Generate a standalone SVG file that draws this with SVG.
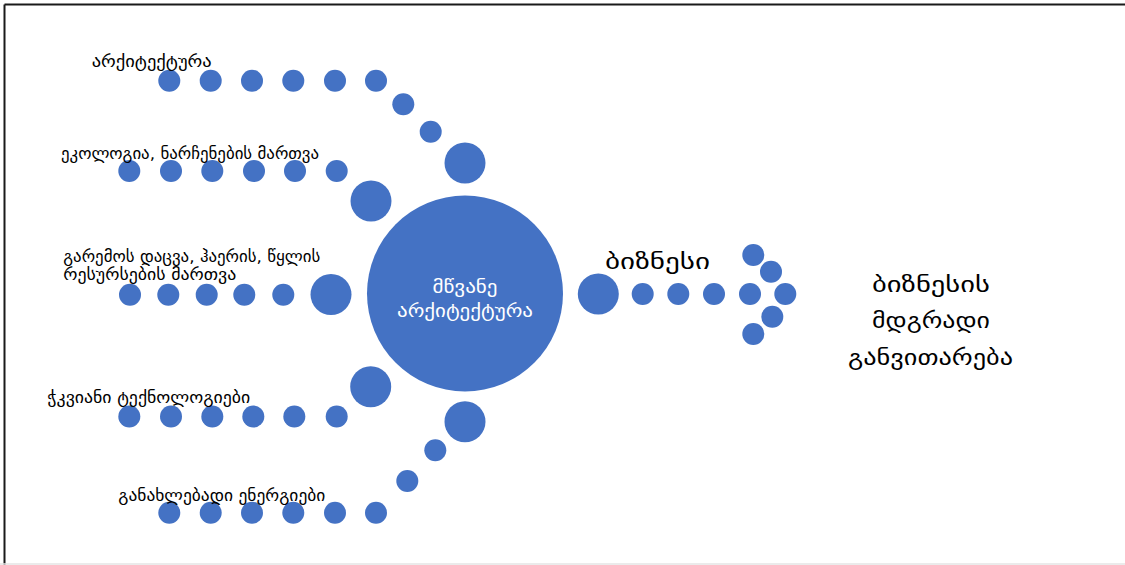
<svg xmlns="http://www.w3.org/2000/svg" width="1125" height="565" viewBox="0 0 1125 565">
<style>
.dot{fill:#4472C4}
.lbl{font-family:"DejaVu Sans","Noto Sans",sans-serif;font-size:16px;fill:#000}
.main{font-family:"DejaVu Sans","Noto Sans",sans-serif;font-size:18px;fill:#fff}
.big{font-family:"DejaVu Sans","Noto Sans",sans-serif;font-size:22px;fill:#000}
</style>
<rect x="0" y="0" width="1125" height="565" fill="#fff"/>
<g id="frame">
<line x1="4.5" y1="4.5" x2="1125" y2="4.5" stroke="#1a1a1a" stroke-width="2"/>
<line x1="4.5" y1="4.5" x2="4.5" y2="565" stroke="#1a1a1a" stroke-width="2"/>
<line x1="0" y1="564" x2="1125" y2="564" stroke="#e4e4e4" stroke-width="1.5"/>
</g>
<g id="connectors">
<g id="chain-architecture">
<circle class="dot" cx="169.3" cy="80.7" r="11"/><circle class="dot" cx="210.7" cy="80.7" r="11"/><circle class="dot" cx="252" cy="80.7" r="11"/><circle class="dot" cx="293.3" cy="80.7" r="11"/><circle class="dot" cx="335" cy="80.7" r="11"/><circle class="dot" cx="376" cy="80.7" r="11"/><circle class="dot" cx="403.3" cy="104.3" r="11"/><circle class="dot" cx="430.7" cy="131.7" r="11"/><circle class="dot" cx="465" cy="163" r="20.5"/>
</g>
<g id="chain-ecology">
<circle class="dot" cx="129.3" cy="171" r="11"/><circle class="dot" cx="171" cy="171" r="11"/><circle class="dot" cx="212.3" cy="171" r="11"/><circle class="dot" cx="254" cy="171" r="11"/><circle class="dot" cx="295" cy="171" r="11"/><circle class="dot" cx="336.7" cy="171" r="11"/><circle class="dot" cx="371" cy="201" r="20.5"/>
</g>
<g id="chain-environment">
<circle class="dot" cx="130" cy="294.7" r="11"/><circle class="dot" cx="168.3" cy="294.7" r="11"/><circle class="dot" cx="206.7" cy="294.7" r="11"/><circle class="dot" cx="244.3" cy="294.7" r="11"/><circle class="dot" cx="283.3" cy="294.7" r="11"/><circle class="dot" cx="331" cy="294.5" r="20.5"/>
</g>
<g id="chain-smart">
<circle class="dot" cx="129.3" cy="416.5" r="11"/><circle class="dot" cx="171" cy="416.5" r="11"/><circle class="dot" cx="212.3" cy="416.5" r="11"/><circle class="dot" cx="253.3" cy="416.5" r="11"/><circle class="dot" cx="294.3" cy="416.5" r="11"/><circle class="dot" cx="336.7" cy="416.5" r="11"/><circle class="dot" cx="370.7" cy="386.7" r="20.5"/>
</g>
<g id="chain-renewable">
<circle class="dot" cx="169.3" cy="512.7" r="11"/><circle class="dot" cx="210.7" cy="512.7" r="11"/><circle class="dot" cx="252" cy="512.7" r="11"/><circle class="dot" cx="293.3" cy="512.7" r="11"/><circle class="dot" cx="335" cy="512.7" r="11"/><circle class="dot" cx="376" cy="512.7" r="11"/><circle class="dot" cx="407.3" cy="481" r="11"/><circle class="dot" cx="435.3" cy="450.3" r="11"/><circle class="dot" cx="465" cy="421.7" r="20.5"/>
</g>
<g id="arrow-business">
<circle class="dot" cx="642.7" cy="294" r="11"/><circle class="dot" cx="678.3" cy="294" r="11"/><circle class="dot" cx="714" cy="294" r="11"/><circle class="dot" cx="750" cy="294" r="11"/><circle class="dot" cx="785.3" cy="294" r="11"/><circle class="dot" cx="753.3" cy="255" r="11"/><circle class="dot" cx="771" cy="271.7" r="11"/><circle class="dot" cx="772.3" cy="316.7" r="11"/><circle class="dot" cx="753.3" cy="334" r="11"/>
</g>
</g>
<g id="node-green-architecture">
<circle class="dot" cx="465" cy="293.5" r="98"/>
<text class="main" x="432.5" y="293" textLength="65" lengthAdjust="spacingAndGlyphs">მწვანე</text>
<text class="main" x="397" y="316.5" textLength="136" lengthAdjust="spacingAndGlyphs">არქიტექტურა</text>
</g>
<g id="node-architecture">
<text class="lbl" x="91.7" y="66.5" textLength="120" lengthAdjust="spacingAndGlyphs">არქიტექტურა</text>
</g>
<g id="node-ecology">
<text class="lbl" x="61" y="159" textLength="258" lengthAdjust="spacingAndGlyphs">ეკოლოგია, ნარჩენების მართვა</text>
</g>
<g id="node-environment">
<text class="lbl" x="63.3" y="261.5" textLength="257" lengthAdjust="spacingAndGlyphs">გარემოს დაცვა, ჰაერის, წყლის</text>
<text class="lbl" x="63.3" y="280" textLength="173" lengthAdjust="spacingAndGlyphs">რესურსების მართვა</text>
</g>
<g id="node-smart-tech">
<text class="lbl" x="47.3" y="403.3" textLength="203" lengthAdjust="spacingAndGlyphs">ჭკვიანი ტექნოლოგიები</text>
</g>
<g id="node-renewable">
<text class="lbl" x="118.3" y="500.7" textLength="207" lengthAdjust="spacingAndGlyphs">განახლებადი ენერგიები</text>
</g>
<g id="node-business">
<circle class="dot" cx="598.3" cy="294" r="20.5"/>
<text class="big" x="605" y="269" textLength="105" lengthAdjust="spacingAndGlyphs">ბიზნესი</text>
</g>
<g id="node-sustainable">
<text class="big" x="872" y="291.5" textLength="118" lengthAdjust="spacingAndGlyphs">ბიზნესის</text>
<text class="big" x="872" y="328.3" textLength="118" lengthAdjust="spacingAndGlyphs">მდგრადი</text>
<text class="big" x="848" y="365" textLength="165" lengthAdjust="spacingAndGlyphs">განვითარება</text>
</g>
</svg>
